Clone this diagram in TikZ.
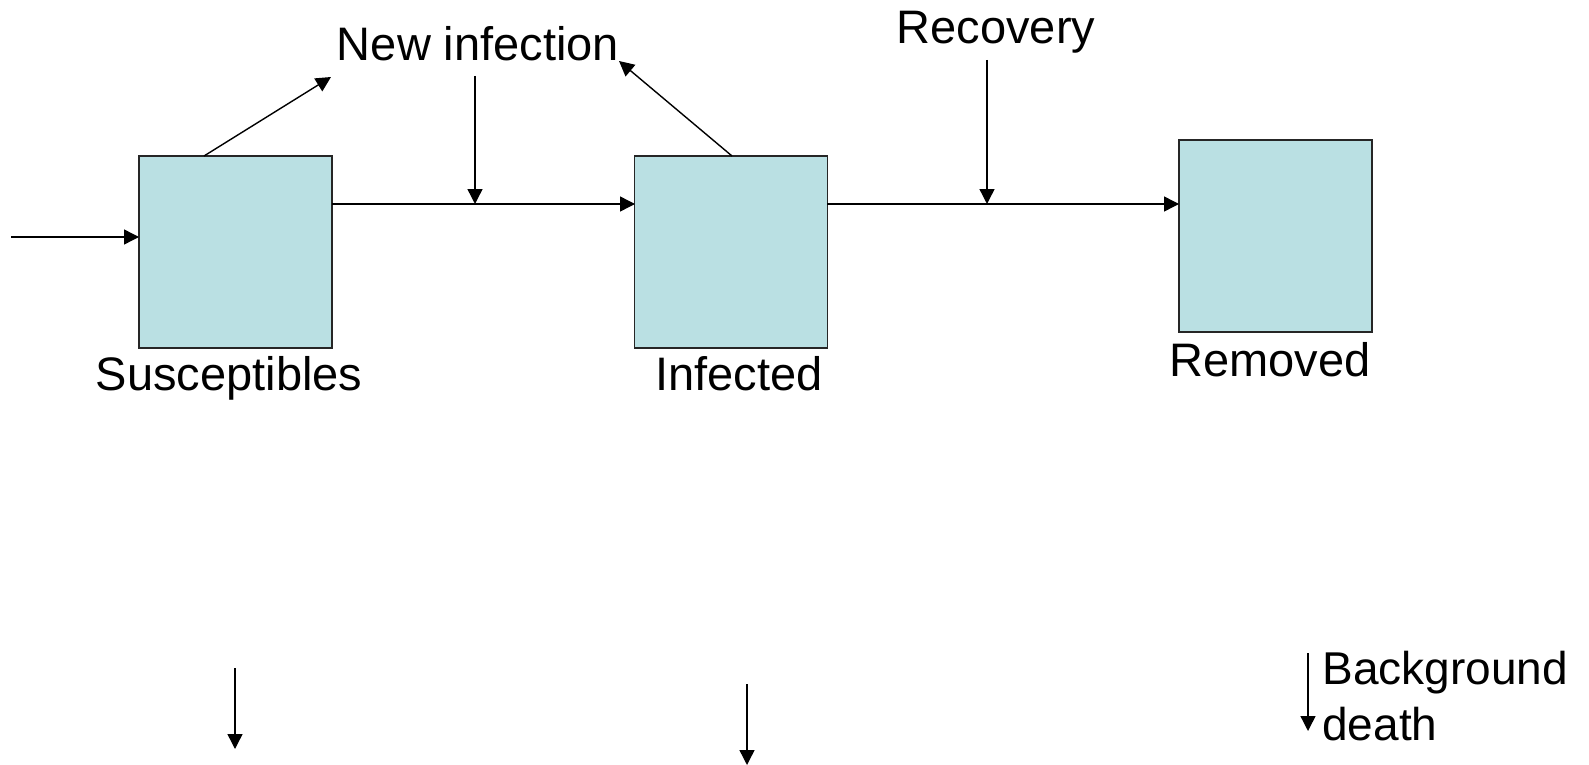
\documentclass[tikz,border=0pt]{standalone}
\usepackage{fontspec}
\setmainfont{Liberation Sans}
\usetikzlibrary{arrows.meta}
\definecolor{boxfill}{RGB}{186,224,227}
\begin{document}
\begin{tikzpicture}[x=0.5pt,y=-0.5pt,
  comp/.style={draw=black!85,line width=0.6pt,fill=boxfill,minimum width=96.5pt,minimum height=96pt,inner sep=0pt,outer sep=0pt},
  lbl/.style={font=\fontsize{23.5pt}{28pt}\selectfont,inner sep=0pt,anchor=base},
  flow/.style={line width=0.7pt,-{Triangle[length=7.5pt,width=7.5pt]}}]
\useasboundingbox (0,0) rectangle (1589,765);
% compartments
\node[comp] (S) at (235.5,252) {};
\node[comp] (I) at (731,252) {};
\node[comp] (R) at (1275.5,236) {};
% labels
\node[lbl] (Slbl) at (229,390) {Susceptibles};
\node[lbl] (Ilbl) at (739,390) {Infected};
\node[lbl] (Rlbl) at (1270,376) {Removed};
\node[lbl] (NI) at (478,61) {New infection};
\node[lbl] (Rec) at (996,44) {Recovery};
\node[font=\fontsize{23pt}{28pt}\selectfont,inner sep=0pt,anchor=base west,align=left] (BD) at (1322,740) {Background\\death};
% coordinates
\coordinate (in0) at (11,237);
\coordinate (SI1) at (332,204);
\coordinate (SI2) at (635,204);
\coordinate (IR1) at (827,204);
\coordinate (IR2) at (1179,204);
\coordinate (Stop) at (204,156);
\coordinate (Itop) at (732,156);
\coordinate (NIa) at (331,77);
\coordinate (NIb) at (619,61);
\coordinate (v1a) at (475,76);
\coordinate (v1b) at (475,204);
\coordinate (v2a) at (987,60);
\coordinate (v2b) at (987,204);
\coordinate (d1a) at (235,668);
\coordinate (d1b) at (235,749);
\coordinate (d2a) at (747,684);
\coordinate (d2b) at (747,765);
\coordinate (d3a) at (1308,653);
\coordinate (d3b) at (1308,731);
% flows
\draw[flow] (in0) -- (S.west |- in0);
\draw[flow] (SI1) -- (SI2);
\draw[flow] (IR1) -- (IR2);
\draw[flow] (Stop) -- (NIa);
\draw[flow] (Itop) -- (NIb);
\draw[flow] (v1a) -- (v1b);
\draw[flow] (v2a) -- (v2b);
\draw[flow] (d1a) -- (d1b);
\draw[flow] (d2a) -- (d2b);
\draw[flow] (d3a) -- (d3b);
\end{tikzpicture}
\end{document}
